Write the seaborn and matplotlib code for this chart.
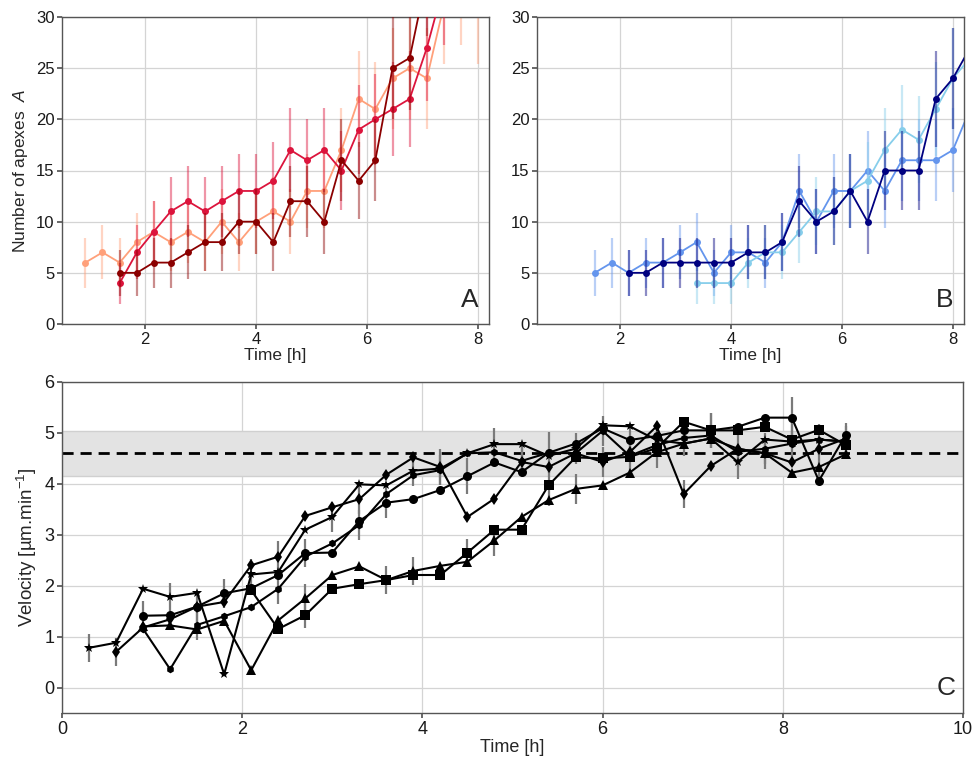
import numpy as np
import matplotlib
matplotlib.use("Agg")
import matplotlib.pyplot as plt
import seaborn as sns

nan = np.nan

# ---------------------------------------------------------------
# Panel A : number of apexes (red family)
# ---------------------------------------------------------------
salmon_t = [0.92, 1.23, 1.54, 1.85, 2.15, 2.46, 2.77, 3.08, 3.38, 3.69, 4.00, 4.31,
            4.62, 4.92, 5.23, 5.54, 5.85, 6.15, 6.46, 6.77, 7.08, 7.38, 7.69, 8.00]
salmon_n = [6, 7, 6, 8, 9, 8, 9, 8, 10, 8, 10, 11, 10, 13, 13, 17, 22, 21, 24, 25, 24, 31, 33, 31]

crimson_t = [1.54, 1.85, 2.15, 2.46, 2.77, 3.08, 3.38, 3.69, 4.00, 4.31,
             4.62, 4.92, 5.23, 5.54, 5.85, 6.15, 6.46, 6.77, 7.08, 7.38]
crimson_n = [4, 7, 9, 11, 12, 11, 12, 13, 13, 14, 17, 16, 17, 15, 19, 20, 21, 22, 27, 33]

darkred_t = [1.54, 1.85, 2.15, 2.46, 2.77, 3.08, 3.38, 3.69, 4.00, 4.31,
             4.62, 4.92, 5.23, 5.54, 5.85, 6.15, 6.46, 6.77, 7.08]
darkred_n = [5, 5, 6, 6, 7, 8, 8, 10, 10, 8, 12, 12, 10, 16, 14, 16, 25, 26, 34]

# ---------------------------------------------------------------
# Panel B : number of apexes (blue family)
# ---------------------------------------------------------------
cblue_t = [1.54, 1.85, 2.15, 2.46, 2.77, 3.08, 3.38, 3.69, 4.00, 4.31, 4.62, 4.92,
           5.23, 5.54, 5.85, 6.15, 6.46, 6.77, 7.08, 7.38, 7.69, 8.00, 8.31]
cblue_n = [5, 6, 5, 6, 6, 7, 8, 5, 7, 7, 6, 8, 13, 10, 13, 13, 15, 13, 16, 16, 16, 17, 21]

navy_t = [2.15, 2.46, 2.77, 3.08, 3.38, 3.69, 4.00, 4.31, 4.62, 4.92,
          5.23, 5.54, 5.85, 6.15, 6.46, 6.77, 7.08, 7.38, 7.69, 8.00, 8.31]
navy_n = [5, 5, 6, 6, 6, 6, 6, 7, 7, 8, 12, 10, 11, 13, 10, 15, 15, 15, 22, 24, 27]

sky_t = [3.38, 3.69, 4.00, 4.31, 4.62, 4.92, 5.23, 5.54, 5.85,
         6.15, 6.46, 6.77, 7.08, 7.38, 7.69, 8.00, 8.31]
sky_n = [4, 4, 4, 6, 7, 7, 9, 11, 11, 13, 14, 17, 19, 18, 21, 24, 26]

# ---------------------------------------------------------------
# Panel C : velocity of the apexes
# ---------------------------------------------------------------
c_t = [0.3, 0.6, 0.9, 1.2, 1.5, 1.8, 2.1, 2.4, 2.7, 3.0, 3.3, 3.6, 3.9, 4.2, 4.5,
       4.8, 5.1, 5.4, 5.7, 6.0, 6.3, 6.6, 6.9, 7.2, 7.5, 7.8, 8.1, 8.4, 8.7]

star_v = [0.78, 0.88, 1.94, 1.78, 1.86, 0.26, 2.22, 2.27, 3.10, 3.35, 3.99, 3.97, 4.26, 4.30, 4.60,
          4.78, 4.78, 4.55, 4.69, 5.15, 5.13, 4.86, 4.79, 4.89, 4.43, 4.87, 4.83, 4.87, 4.83]
star_e = [0.27, nan, nan, 0.27, nan, nan, 0.30, nan, nan, 0.30, nan, nan, 0.30, nan, nan,
          0.32, nan, nan, 0.30, nan, nan, 0.30, nan, nan, 0.33, nan, nan, 0.30, nan]

diam_v = [0.70, 1.18, 1.34, 1.59, 1.68, 2.40, 2.57, 3.37, 3.54, 3.70, 4.18, 4.52, 4.33, 3.35,
          3.71, 4.43, 4.33, 4.60, 4.43, 4.62, 5.13, 3.80, 4.35, 4.69, 4.60, 4.42, 4.69, 4.89]
diam_e = [0.27, nan, nan, 0.30, nan, nan, 0.30, nan, nan, 0.30, nan, nan, 0.35, nan,
          nan, 0.30, nan, nan, 0.30, nan, nan, 0.28, nan, nan, 0.30, nan, nan, 0.30]

circ_v = [1.41, 1.42, 1.59, 1.85, 1.95, 2.21, 2.64, 2.65, 3.27, 3.63, 3.70, 3.88, 4.15, 4.42,
          4.23, 4.61, 4.79, 5.09, 4.86, 4.94, 5.05, 5.05, 5.12, 5.30, 5.30, 4.06, 4.96]
circ_e = [0.28, nan, nan, 0.28, nan, nan, 0.28, nan, nan, 0.30, nan, nan, 0.35, nan,
          nan, 0.40, nan, nan, 0.30, nan, nan, 0.35, nan, nan, 0.40, nan, nan]

hexa_v = [1.15, 0.36, 1.23, 1.40, 1.58, 1.94, 2.57, 2.83, 3.19, 3.80, 4.17, 4.27, 4.60, 4.62,
          4.45, 4.61, 4.60, 5.04, 4.55, 4.76, 4.90, 4.95, 4.63, 4.69, 4.79, 4.87, 4.83]
hexa_e = [nan, nan, 0.30, nan, nan, 0.30, nan, nan, 0.30, nan, nan, 0.30, nan, nan,
          0.30, nan, nan, 0.30, nan, nan, 0.35, nan, nan, 0.30, nan, nan, 0.30]

tri_v = [1.20, 1.22, 1.14, 1.31, 0.34, 1.32, 1.75, 2.21, 2.38, 2.11, 2.29, 2.39, 2.47, 2.89,
         3.35, 3.68, 3.90, 3.97, 4.22, 4.62, 4.79, 4.89, 4.69, 4.60, 4.22, 4.33, 4.58]
tri_e = [nan, nan, nan, nan, nan, nan, 0.28, nan, nan, nan, 0.28, nan, nan, 0.30,
         nan, nan, 0.30, nan, nan, 0.30, nan, nan, 0.35, nan, nan, 0.30, nan]

sq_v = [1.91, 1.15, 1.42, 1.94, 2.03, 2.11, 2.21, 2.21, 2.65, 3.10, 3.10, 3.97,
        4.52, 4.50, 4.53, 4.70, 5.22, 5.05, 5.05, 5.12, 4.87, 5.06, 4.76]
sq_e = [nan, nan, 0.25, nan, nan, 0.28, nan, nan, 0.26, nan, nan, 0.40,
        nan, nan, 0.35, nan, nan, 0.35, nan, nan, 0.40, nan, nan]

ref_mean = 4.60
ref_sd = 0.44


def tune_axes(ax):
    for s in ax.spines.values():
        s.set_color("#555555")
        s.set_linewidth(1.0)
    ax.grid(True, color="#d4d4d4", linewidth=0.9)
    ax.set_axisbelow(True)


def draw_counts(ax, t, n, color, z):
    # poisson counting error on the number of apexes
    err = np.sqrt(np.array(n, dtype=float))
    ax.errorbar(t, n, yerr=err, fmt="none", ecolor=color, alpha=0.45,
                elinewidth=1.6, zorder=z)
    sns.lineplot(x=t, y=n, ax=ax, color=color, marker="o", markersize=5,
                 markeredgewidth=0, linewidth=1.3, sort=False, zorder=z + 0.5)


sns.set_theme(style="whitegrid")
plt.rcParams["font.family"] = ["Liberation Sans", "DejaVu Sans"]
plt.rcParams["mathtext.fontset"] = "custom"
plt.rcParams["mathtext.rm"] = "Liberation Sans"
plt.rcParams["mathtext.it"] = "Liberation Sans:italic"
plt.rcParams["xtick.bottom"] = True
plt.rcParams["ytick.left"] = True
plt.rcParams["xtick.major.size"] = 3.5
plt.rcParams["ytick.major.size"] = 3.5
plt.rcParams["xtick.color"] = "#555555"
plt.rcParams["ytick.color"] = "#555555"
plt.rcParams["xtick.labelcolor"] = "#1a1a1a"
plt.rcParams["ytick.labelcolor"] = "#1a1a1a"

fig = plt.figure(figsize=(9.77, 7.6), dpi=100)
axA = fig.add_axes([62 / 977, 1 - 324 / 760, 427 / 977, 307 / 760])
axB = fig.add_axes([537 / 977, 1 - 324 / 760, 427 / 977, 307 / 760])
axC = fig.add_axes([62 / 977, 1 - 713 / 760, 901 / 977, 331 / 760])

# --- A
draw_counts(axA, salmon_t, salmon_n, "#FFA07A", 2)
draw_counts(axA, crimson_t, crimson_n, "#DC143C", 3)
draw_counts(axA, darkred_t, darkred_n, "#8B0000", 4)
axA.set_ylabel(r"Number of apexes  $A$", fontsize=12.5)
axA.text(0.975, 0.04, "A", transform=axA.transAxes, ha="right", va="bottom", fontsize=19)

# --- B
draw_counts(axB, cblue_t, cblue_n, "#6495ED", 2)
draw_counts(axB, sky_t, sky_n, "#87CEEB", 3)
draw_counts(axB, navy_t, navy_n, "#000080", 4)
axB.set_ylabel("")
axB.text(0.975, 0.04, "B", transform=axB.transAxes, ha="right", va="bottom", fontsize=19)

for ax in (axA, axB):
    ax.set_xlim(0.5, 8.2)
    ax.set_ylim(0, 30)
    ax.set_xticks([2, 4, 6, 8])
    ax.set_yticks([0, 5, 10, 15, 20, 25, 30])
    ax.set_xlabel("Time [h]", fontsize=12.5, labelpad=1)
    ax.tick_params(labelsize=12, pad=2)
    tune_axes(ax)

# --- C
axC.axhspan(ref_mean - ref_sd, ref_mean + ref_sd, facecolor="#e3e3e3", edgecolor="#d0d0d0",
            linewidth=1, zorder=1)
axC.axhline(ref_mean, color="black", linestyle=(0, (4, 2.5)), linewidth=2, zorder=2)

c_series = [
    (c_t, star_v, star_e, "*", 7.5),
    (c_t[1:], diam_v, diam_e, "d", 6),
    (c_t[2:], circ_v, circ_e, "o", 6.5),
    (c_t[2:], hexa_v, hexa_e, "h", 5.5),
    (c_t[2:], tri_v, tri_e, "^", 6.5),
    (c_t[6:], sq_v, sq_e, "s", 6.5),
]
for t, v, e, mk, ms in c_series:
    axC.errorbar(t, v, yerr=e, fmt="none", ecolor="#7a7a7a", elinewidth=1.6, zorder=3)
    sns.lineplot(x=t, y=v, ax=axC, color="black", marker=mk, markersize=ms,
                 markeredgewidth=0, linewidth=1.5, sort=False, zorder=4)

axC.set_xlim(0, 10)
axC.set_ylim(-0.5, 6)
axC.set_xticks([0, 2, 4, 6, 8, 10])
axC.set_yticks([0, 1, 2, 3, 4, 5, 6])
axC.set_xlabel("Time [h]", fontsize=13, labelpad=1)
axC.set_ylabel("Velocity [µm.min$^{-1}$]", fontsize=13.5)
axC.tick_params(labelsize=13, pad=2)
axC.text(0.992, 0.04, "C", transform=axC.transAxes, ha="right", va="bottom", fontsize=19)
tune_axes(axC)

fig.savefig("out.png", dpi=100)
